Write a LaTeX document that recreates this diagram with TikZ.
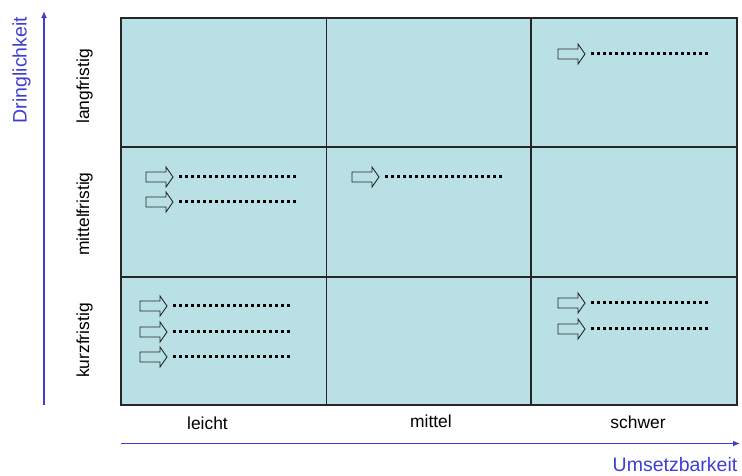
\documentclass[tikz,border=0pt]{standalone}
\usepackage{fontspec}
\setmainfont{Liberation Sans}
\usetikzlibrary{arrows.meta}
\definecolor{cellfill}{RGB}{185,224,228}
\definecolor{axisblue}{RGB}{62,62,212}
\begin{document}
\begin{tikzpicture}[x=1pt,y=-1pt,
  gridline/.style={line width=1.4pt, draw=black!85},
  axis/.style={line width=1.6pt, draw=axisblue, -{Latex[length=7pt,width=6pt]}},
  axislabel/.style={text=axisblue, font=\fontsize{19.5}{20}\selectfont, inner sep=0pt},
  catlabel/.style={font=\fontsize{17.4}{18}\selectfont, inner sep=0pt},
  itemhead/.style={draw=black!85, line width=0.9pt, line join=miter},
  itemline/.style={line width=2.5pt, dash pattern=on 3pt off 3pt},
  pics/item/.style={code={
    \draw[itemhead] (0,-5) -- (20,-5) -- (20,-10) -- (27,0) -- (20,10) -- (20,5) -- (0,5) -- cycle;
    \draw[itemline] (33,-0.5) -- (150,-0.5);
  }}
]
\useasboundingbox (0,0) rectangle (742,475);

% matrix cells
\fill[cellfill] (121,18) rectangle (737,405);
\draw[gridline] (121,18) rectangle (737,405);
\draw[gridline] (326.5,18) -- (326.5,405);
\draw[gridline] (531,18) -- (531,405);
\draw[gridline] (121,147) -- (737,147);
\draw[gridline] (121,277) -- (737,277);

% axes
\coordinate (ybottom) at (44,405);
\coordinate (ytop) at (44,11);
\coordinate (xleft) at (121,443.5);
\coordinate (xright) at (740,443.5);
\draw[axis] (ybottom) -- (ytop);
\draw[axis] (xleft) -- (xright);

\node[axislabel, rotate=90, anchor=base west] (ylab) at (26.7,123.3) {Dringlichkeit};
\node[axislabel, anchor=base east] (xlab) at (737.5,471) {Umsetzbarkeit};

% row labels
\node[catlabel, rotate=90, anchor=base] (lang) at (89,86.5) {langfristig};
\node[catlabel, rotate=90, anchor=base] (mittelf) at (89,214) {mittelfristig};
\node[catlabel, rotate=90, anchor=base] (kurz) at (89,340.5) {kurzfristig};

% column labels
\node[catlabel, anchor=base] (leicht) at (207.5,429) {leicht};
\node[catlabel, anchor=base] (mittel) at (431,427) {mittel};
\node[catlabel, anchor=base] (schwer) at (638,428.5) {schwer};

% entries
\pic at (558,54) {item};
\pic at (146,177) {item};
\pic at (146,202) {item};
\pic at (352,177) {item};
\pic at (140,306) {item};
\pic at (140,332) {item};
\pic at (140,357) {item};
\pic at (558,303) {item};
\pic at (558,329) {item};
\end{tikzpicture}
\end{document}
